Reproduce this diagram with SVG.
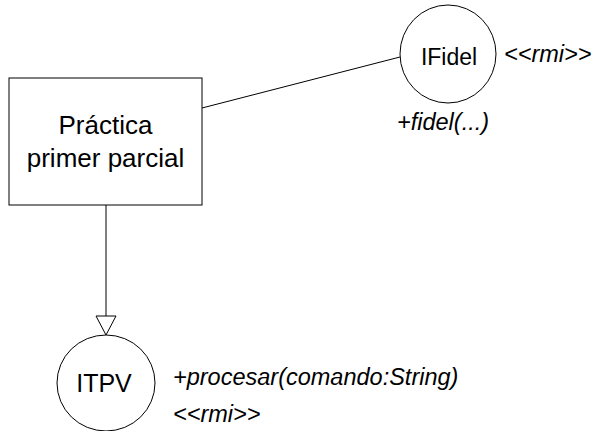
<svg xmlns="http://www.w3.org/2000/svg" width="602" height="431" viewBox="0 0 602 431">
<defs>
<style>
.shape{fill:#fff;stroke:#000;stroke-width:1}
.lbl{font-family:"Liberation Sans",Arial,sans-serif;fill:#000}
.name{text-anchor:middle}
.it{font-size:23.5px;font-style:italic}
.conn{stroke:#000;stroke-width:1;fill:none}
</style>
</defs>
<rect width="602" height="431" fill="#fff"/>
<g id="connectors">
<line class="conn" x1="202" y1="108" x2="400" y2="57"/>
<line class="conn" x1="106" y1="205" x2="106" y2="316"/>
<path d="M96,316 L116,316 L106,335 Z" fill="#fff" stroke="#000" stroke-width="1"/>
</g>
<g id="practica">
<rect class="shape" x="9" y="78" width="193" height="127"/>
<text class="lbl name" x="105.5" y="134" font-size="26">Práctica</text>
<text class="lbl name" x="105.5" y="167" font-size="26">primer parcial</text>
</g>
<g id="ifidel">
<ellipse class="shape" cx="448" cy="54" rx="48" ry="49"/>
<text class="lbl name" x="449" y="65" font-size="23">IFidel</text>
<text class="lbl it" x="504" y="62">&lt;&lt;rmi&gt;&gt;</text>
<text class="lbl it" x="397" y="130">+fidel(...)</text>
</g>
<g id="itpv">
<ellipse class="shape" cx="106" cy="383" rx="49" ry="48"/>
<text class="lbl name" x="104" y="392" font-size="25">ITPV</text>
<text class="lbl it" x="173" y="385">+procesar(comando:String)</text>
<text class="lbl it" x="173" y="422">&lt;&lt;rmi&gt;&gt;</text>
</g>
</svg>
